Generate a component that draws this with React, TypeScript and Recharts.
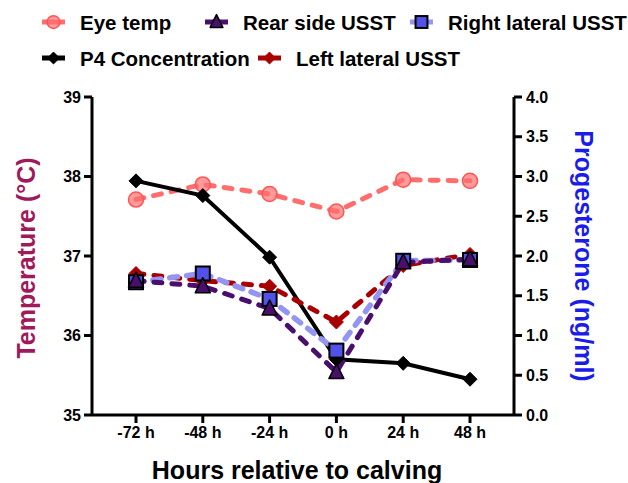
import React from 'react';
import { LineChart, Line, XAxis, YAxis } from 'recharts';

const categories = ['-72 h', '-48 h', '-24 h', '0 h', '24 h', '48 h'];
const eyeTemp = [37.71, 37.9, 37.78, 37.56, 37.96, 37.945];
const rearSide = [36.69, 36.62, 36.34, 35.54, 36.92, 36.96];
const rightLateral = [36.67, 36.78, 36.46, 35.81, 36.94, 36.95];
const p4Concentration = [2.945, 2.76, 1.985, 0.7, 0.65, 0.45];
const leftLateral = [36.78, 36.69, 36.62, 36.17, 36.88, 37.02];
const tempTicks = [35, 36, 37, 38, 39];
const p4Ticks = [0, 0.5, 1, 1.5, 2, 2.5, 3, 3.5, 4];

const data = categories.map((c, i) => ({
  hour: c,
  eye: eyeTemp[i],
  rear: rearSide[i],
  right: rightLateral[i],
  p4: p4Concentration[i],
  left: leftLateral[i],
}));

const FONT = '"Liberation Sans", Arial, sans-serif';

type Shape = 'circle' | 'triangle' | 'square' | 'diamond';

const Marker = ({ shape, cx, cy, fill, stroke, strokeWidth, fillOpacity, scale = 1 }: any) => {
  if (cx == null || cy == null) return null;
  if (shape === 'circle') return <circle cx={cx} cy={cy} r={7.5 * scale} fill={fill} fillOpacity={fillOpacity} stroke={stroke} strokeWidth={strokeWidth} />;
  if (shape === 'triangle') {
    const s = 7.5 * scale;
    return <polygon points={`${cx},${cy - s - 1} ${cx - s},${cy + s - 1} ${cx + s},${cy + s - 1}`} fill={fill} stroke={stroke} strokeWidth={strokeWidth} strokeLinejoin="round" />;
  }
  if (shape === 'square') {
    const s = 7 * scale;
    return <rect x={cx - s} y={cy - s} width={2 * s} height={2 * s} fill={fill} stroke={stroke} strokeWidth={strokeWidth} />;
  }
  const d = 7 * scale;
  return <polygon points={`${cx},${cy - d} ${cx + d},${cy} ${cx},${cy + d} ${cx - d},${cy}`} fill={fill} stroke={stroke} strokeWidth={strokeWidth} />;
};

const series = [
  { key: 'eye', name: 'Eye temp', axis: 'temp', shape: 'circle' as Shape, line: '#ff5454', lineOpacity: 0.85, width: 5, dash: '8 10', fill: '#ff7070', fillOpacity: 0.7, mstroke: '#ff5454', msw: 1.5, lx: 42, ly: 22 },
  { key: 'p4', name: 'P4 Concentration', axis: 'p4', shape: 'diamond' as Shape, line: '#000000', lineOpacity: 1, width: 4, dash: undefined, fill: '#000000', fillOpacity: 1, mstroke: '#000000', msw: 1, lx: 42, ly: 58 },
  { key: 'left', name: 'Left lateral USST', axis: 'temp', shape: 'diamond' as Shape, line: '#a80000', lineOpacity: 1, width: 5, dash: '8 10', fill: '#a80000', fillOpacity: 1, mstroke: '#a80000', msw: 1, lx: 258, ly: 58 },
  { key: 'right', name: 'Right lateral USST', axis: 'temp', shape: 'square' as Shape, line: '#9494f2', lineOpacity: 1, width: 5.5, dash: '8 9', fill: '#5252e8', fillOpacity: 1, mstroke: '#000000', msw: 2, lx: 410, ly: 22 },
  { key: 'rear', name: 'Rear side USST', axis: 'temp', shape: 'triangle' as Shape, line: '#4a0f6c', lineOpacity: 1, width: 5, dash: '8 10', fill: '#4a0f6c', fillOpacity: 1, mstroke: '#000000', msw: 1.5, lx: 205, ly: 22 },
];

const tickStyle = { fontFamily: FONT, fontSize: 16, fontWeight: 700, fill: '#000' };

const LegendOverlay = () => (
  <svg width={628} height={80} style={{ position: 'absolute', left: 0, top: 0 }}>
    {series.map((s) => (
      <g key={s.key}>
        <line x1={s.lx} x2={s.lx + 23} y1={s.ly} y2={s.ly} stroke={s.line} strokeOpacity={s.lineOpacity} strokeWidth={5} />
        <Marker shape={s.shape} cx={s.lx + 11.5} cy={s.ly} fill={s.fill} fillOpacity={s.fillOpacity} stroke={s.mstroke} strokeWidth={s.msw} scale={0.85} />
        <text x={s.lx + 38} y={s.ly} dominantBaseline="central" fontFamily={FONT} fontSize={20.5} fontWeight={700} fill="#000">
          {s.name}
        </text>
      </g>
    ))}
  </svg>
);

export default function App() {
  return (
    <div style={{ position: 'absolute', left: 0, top: 0, width: 628, height: 483, background: '#fff' }}>
      <LineChart width={628} height={483} data={data} margin={{ top: 97, right: 0, bottom: 0, left: 0 }}>
        <XAxis
          dataKey="hour"
          height={68}
          padding={{ left: 44, right: 44 }}
          axisLine={{ stroke: '#000', strokeWidth: 3 }}
          tickLine={{ stroke: '#000', strokeWidth: 3 }}
          tickSize={8}
          tickMargin={4}
          tick={tickStyle}
          label={(props: any) => {
            const vb = props.viewBox;
            return (
              <text x={vb.x + vb.width / 2 - 6} y={479} textAnchor="middle" fontFamily={FONT} fontSize={25} fontWeight={700} fill="#000">
                Hours relative to calving
              </text>
            );
          }}
        />
        <YAxis
          yAxisId="temp"
          orientation="left"
          width={92}
          domain={[35, 39]}
          ticks={tempTicks}
          allowDataOverflow
          axisLine={{ stroke: '#000', strokeWidth: 3 }}
          tickLine={{ stroke: '#000', strokeWidth: 3 }}
          tickSize={8}
          tickMargin={3}
          tick={tickStyle}
          label={(props: any) => {
            const vb = props.viewBox;
            const cx = 26;
            const cy = vb.y + vb.height / 2 + 2;
            return (
              <text x={cx} y={cy} transform={`rotate(-90 ${cx} ${cy})`} textAnchor="middle" dominantBaseline="central" fontFamily={FONT} fontSize={25} fontWeight={700} fill="#9e1a5c">
                Temperature (°C)
              </text>
            );
          }}
        />
        <YAxis
          yAxisId="p4"
          orientation="right"
          width={114}
          domain={[0, 4]}
          ticks={p4Ticks}
          allowDataOverflow
          tickFormatter={(v: number) => v.toFixed(1)}
          axisLine={{ stroke: '#000', strokeWidth: 3 }}
          tickLine={{ stroke: '#000', strokeWidth: 3 }}
          tickSize={8}
          tickMargin={4}
          tick={tickStyle}
          label={(props: any) => {
            const vb = props.viewBox;
            const cx = 584;
            const cy = vb.y + vb.height / 2;
            return (
              <text x={cx} y={cy} transform={`rotate(90 ${cx} ${cy})`} textAnchor="middle" dominantBaseline="central" fontFamily={FONT} fontSize={25} fontWeight={700} fill="#1c1ce8">
                Progesterone (ng/ml)
              </text>
            );
          }}
        />
        {series.map((s) => (
          <Line
            key={s.key}
            yAxisId={s.axis}
            dataKey={s.key}
            name={s.name}
            type="linear"
            stroke={s.line}
            strokeOpacity={s.lineOpacity}
            strokeWidth={s.width}
            strokeDasharray={s.dash}
            strokeLinecap="round"
            isAnimationActive={false}
            activeDot={false}
            dot={(p: any) => (
              <Marker key={`${s.key}-${p.index}`} shape={s.shape} cx={p.cx} cy={p.cy} fill={s.fill} fillOpacity={s.fillOpacity} stroke={s.mstroke} strokeWidth={s.msw} />
            )}
          />
        ))}
      </LineChart>
      <LegendOverlay />
    </div>
  );
}
